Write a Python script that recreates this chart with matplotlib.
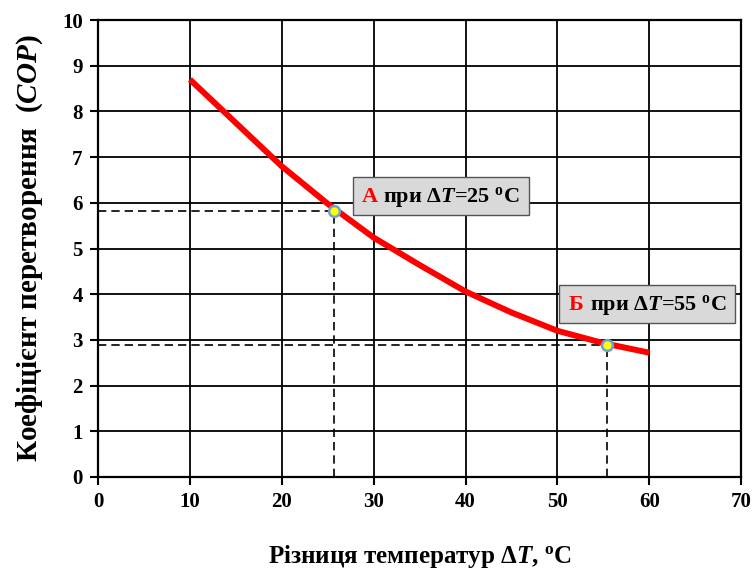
import numpy as np
import matplotlib
matplotlib.use('Agg')
import matplotlib.pyplot as plt
from matplotlib.patches import Rectangle
from matplotlib.transforms import offset_copy, Bbox

plt.rcParams['font.family'] = ['Liberation Serif', 'DejaVu Serif']
plt.rcParams['font.weight'] = 'bold'
plt.rcParams['mathtext.fontset'] = 'custom'
plt.rcParams['mathtext.rm'] = 'Liberation Serif:bold'
plt.rcParams['mathtext.it'] = 'Liberation Serif:italic:bold'
plt.rcParams['mathtext.bf'] = 'Liberation Serif:bold'

# COP versus temperature difference
dt = [10, 15, 20, 25, 30, 35, 40, 45, 50, 55, 60]
cop = [8.7, 7.75, 6.8, 5.98, 5.24, 4.64, 4.06, 3.6, 3.2, 2.93, 2.72]

# marked points
pt_x = [25.7, 55.4]
pt_y = [5.82, 2.89]
pt_letter = ['А', 'Б']
pt_text = ['при Δ$\\it{T}$=25 $^{\\rm o}$C', 'при Δ$\\it{T}$=55 $^{\\rm o}$C']
label_pos = [(28.7, 6.02), (51.2, 3.66)]

fig = plt.figure(figsize=(7.54, 5.74), dpi=100)
ax = fig.add_axes([0.130, 0.169, 0.853, 0.796])

ax.plot(dt, cop, color='#ff0000', lw=4.3, solid_capstyle='butt', zorder=3)

for x, y in zip(pt_x, pt_y):
    ax.plot([0, x], [y, y], color='black', lw=1.2, ls=(0, (5, 3)), zorder=2)
    ax.plot([x, x], [0, y], color='black', lw=1.2, ls=(0, (5, 3)), zorder=2)
ax.scatter(pt_x, pt_y, s=60, color='#ffff00', edgecolor='#6f9fd8', linewidth=1.8, zorder=5)

ax.set_xlim(0, 70)
ax.set_ylim(0, 10)

labels = []
for (lx, ly), txt, letter in zip(label_pos, pt_text, pt_letter):
    t1 = ax.text(lx, ly, letter, fontsize=16, fontweight='bold', color='#ff0000',
                 ha='left', va='baseline', zorder=7)
    tr = offset_copy(ax.transData, fig=fig, x=15.5, y=0, units='points')
    t2 = ax.text(lx, ly, txt, fontsize=16, fontweight='bold', color='black',
                 ha='left', va='baseline', transform=tr, zorder=7)
    labels.append((t1, t2))

fig.canvas.draw()
r = fig.canvas.get_renderer()
inv = ax.transData.inverted()
for t1, t2 in labels:
    bb = Bbox.union([t1.get_window_extent(r), t2.get_window_extent(r)])
    x0, y0 = inv.transform((bb.x0 - 9, bb.y0 - 5))
    x1, y1 = inv.transform((bb.x1 + 9, bb.y1 + 8))
    ax.add_patch(Rectangle((x0, y0), x1 - x0, y1 - y0, fc='#d9d9d9', ec='#555555', lw=1, zorder=6))

ax.set_xticks(range(0, 71, 10))
ax.set_yticks(range(0, 11, 1))
ax.grid(True, color='black', lw=1.3)
ax.set_axisbelow(True)
for s in ax.spines.values():
    s.set_linewidth(1.6)
ax.tick_params(direction='out', length=6, width=1.5, labelsize=15, pad=5)
for lab in ax.get_xticklabels() + ax.get_yticklabels():
    lab.set_fontweight('bold')

ax.set_xlabel('Різниця температур Δ$\\it{T}$, $^{\\rm o}$C', fontsize=18, fontweight='bold', labelpad=22)
ax.set_ylabel('Коефіцієнт перетворення  $\\it{(COP)}$', fontsize=21, fontweight='bold', labelpad=12)

fig.savefig('out.png', dpi=100)
